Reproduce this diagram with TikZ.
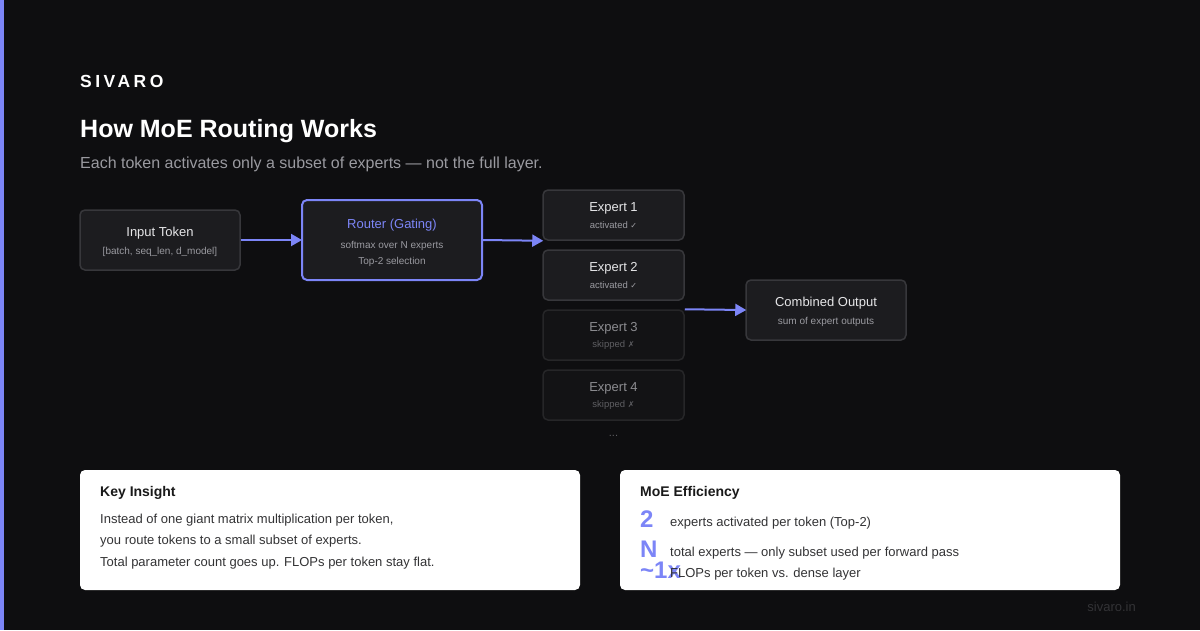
\documentclass[tikz,border=0pt]{standalone}
\usepackage{fontspec}
\setmainfont{Liberation Sans}
\newfontfamily\symfont{DejaVu Sans}
\newfontfamily\logofont[LetterSpace=20]{Liberation Sans}
\usetikzlibrary{arrows.meta,positioning}

\definecolor{bgdark}{HTML}{0E0E10}
\definecolor{accent}{HTML}{7C85F7}
\definecolor{boxfill}{HTML}{1C1C1F}
\definecolor{boxline}{HTML}{37373B}
\definecolor{offfill}{HTML}{131315}
\definecolor{offline}{HTML}{262628}
\definecolor{maintxt}{HTML}{E6E6E8}
\definecolor{subtxt}{HTML}{9A9AA0}
\definecolor{offtxt}{HTML}{8C8C90}
\definecolor{offsub}{HTML}{5E5E62}
\definecolor{cardtxt}{HTML}{333335}
\definecolor{foottxt}{HTML}{333336}

\newcommand{\fsz}[1]{\fontsize{#1}{#1}\selectfont}

\begin{document}
\begin{tikzpicture}[x=1pt,y=-1pt,
	box/.style={
		draw=boxline,
		fill=boxfill,
		rounded corners=5pt,
		line width=1.5pt,
		inner sep=0pt,
		minimum width=160pt,
		minimum height=60pt},
	routerbox/.style={box,draw=accent,line width=2pt,minimum width=180pt,minimum height=80pt},
	expon/.style={box,minimum width=141pt,minimum height=50pt},
	expoff/.style={box,minimum width=141pt,minimum height=50pt,fill=offfill,draw=offline},
	card/.style={
		fill=white,
		rounded corners=5pt,
		inner sep=0pt,
		minimum width=500pt,
		minimum height=120pt},
	head/.style={font=\fsz{13},text=maintxt,inner sep=0pt},
	sub/.style={font=\fsz{10},text=subtxt,inner sep=0pt},
	exponhead/.style={head},
	exponsub/.style={font=\fsz{9.5},text=subtxt,inner sep=0pt},
	expoffhead/.style={head,text=offtxt},
	expoffsub/.style={exponsub,text=offsub},
	cardhead/.style={font=\fsz{14}\bfseries,text=black!90,anchor=west,inner sep=0pt},
	cardline/.style={font=\fsz{13},text=cardtxt,anchor=west,inner sep=0pt},
	bignum/.style={font=\fsz{24}\bfseries,text=accent,anchor=west,inner sep=0pt},
	myarrow/.style={-{Triangle[length=11pt,width=12pt]},draw=accent,line width=2pt,shorten >=-1pt}
	]
	% page and accent bar
	\useasboundingbox (0,0) rectangle (1200,630);
	\fill[bgdark] (0,0) rectangle (1200,630);
	\fill[accent] (0,0) rectangle (4,630);

	% header
	\node[anchor=west,inner sep=0pt,text=white,font=\logofont\fsz{17.5}\bfseries] (brand) at (80,81) {SIVARO};
	\node[anchor=west,inner sep=0pt,text=white,font=\fsz{25}\bfseries] (title) at (80,131) {How MoE Routing Works};
	\node[anchor=west,inner sep=0pt,text=subtxt,font=\fsz{16}] (subtitle) at (80,164) {Each token activates only a subset of experts --- not the full layer.};

	% flow
	\node[box] (input) at (160,240) {};
	\node[head] (input-t) at (160,233) {Input Token};
	\node[sub] (input-s) at (160,252) {[batch, seq\_len, d\_model]};

	\node[routerbox] (router) at (392,240) {};
	\node[head,text=accent] (router-t) at (392,225) {Router (Gating)};
	\node[sub] (router-s1) at (392,246) {softmax over N experts};
	\node[sub] (router-s2) at (392,262) {Top-2 selection};

	\foreach \n/\y/\sty/\txt in {% number/centre/style/status
	1/215/expon/{activated {\symfont\fsz{8}✓}},
	2/275/expon/{activated {\symfont\fsz{8}✓}},
	3/335/expoff/{skipped {\symfont\fsz{8}✗}},
	4/395/expoff/{skipped {\symfont\fsz{8}✗}}}
	{
		\node[\sty] (e\n) at (613.5,\y) {};
		\node[\sty head] (e\n-t) at (613.5,\y-7) {Expert \n};
		\node[\sty sub] (e\n-s) at (613.5,\y+10) {\txt};
	}
	\node[font=\fsz{11},text=offsub,inner sep=0pt] (more) at (613.5,436) {...};

	\node[box] (output) at (826,310) {};
	\node[head] (output-t) at (826,303) {Combined Output};
	\node[sub] (output-s) at (826,322) {sum of expert outputs};

	\draw[myarrow] (input.east) -- (router.west);
	\draw[myarrow] (router.east) -- (e1.south west);
	\draw[myarrow] (e3.north east) -- (output.west);

	% cards
	\node[card] (insight) at (330,530) {};
	\node[cardhead] (insight-t) at (100,493) {Key Insight};
	\foreach \y/\txt in {
	520/{Instead of one giant matrix multiplication per token,},
	541/{you route tokens to a small subset of experts.},
	563/{Total parameter count goes up. FLOPs per token stay flat.}}
		\node[cardline] at (100,\y) {\txt};

	\node[card] (effic) at (870,530) {};
	\node[cardhead] (effic-t) at (640,493) {MoE Efficiency};
	\foreach \y/\num/\ty/\txt in {
	519/2/523/{experts activated per token (Top-2)},
	549/N/553/{total experts --- only subset used per forward pass},
	570/\textasciitilde 1x/574/{FLOPs per token vs. dense layer}}
	{
		\node[bignum] at (640,\y) {\num};
		\node[cardline] at (670,\ty) {\txt};
	}

	\node[anchor=east,inner sep=0pt,text=foottxt,font=\fsz{13}] (site) at (1136,607) {sivaro.in};
\end{tikzpicture}
\end{document}
